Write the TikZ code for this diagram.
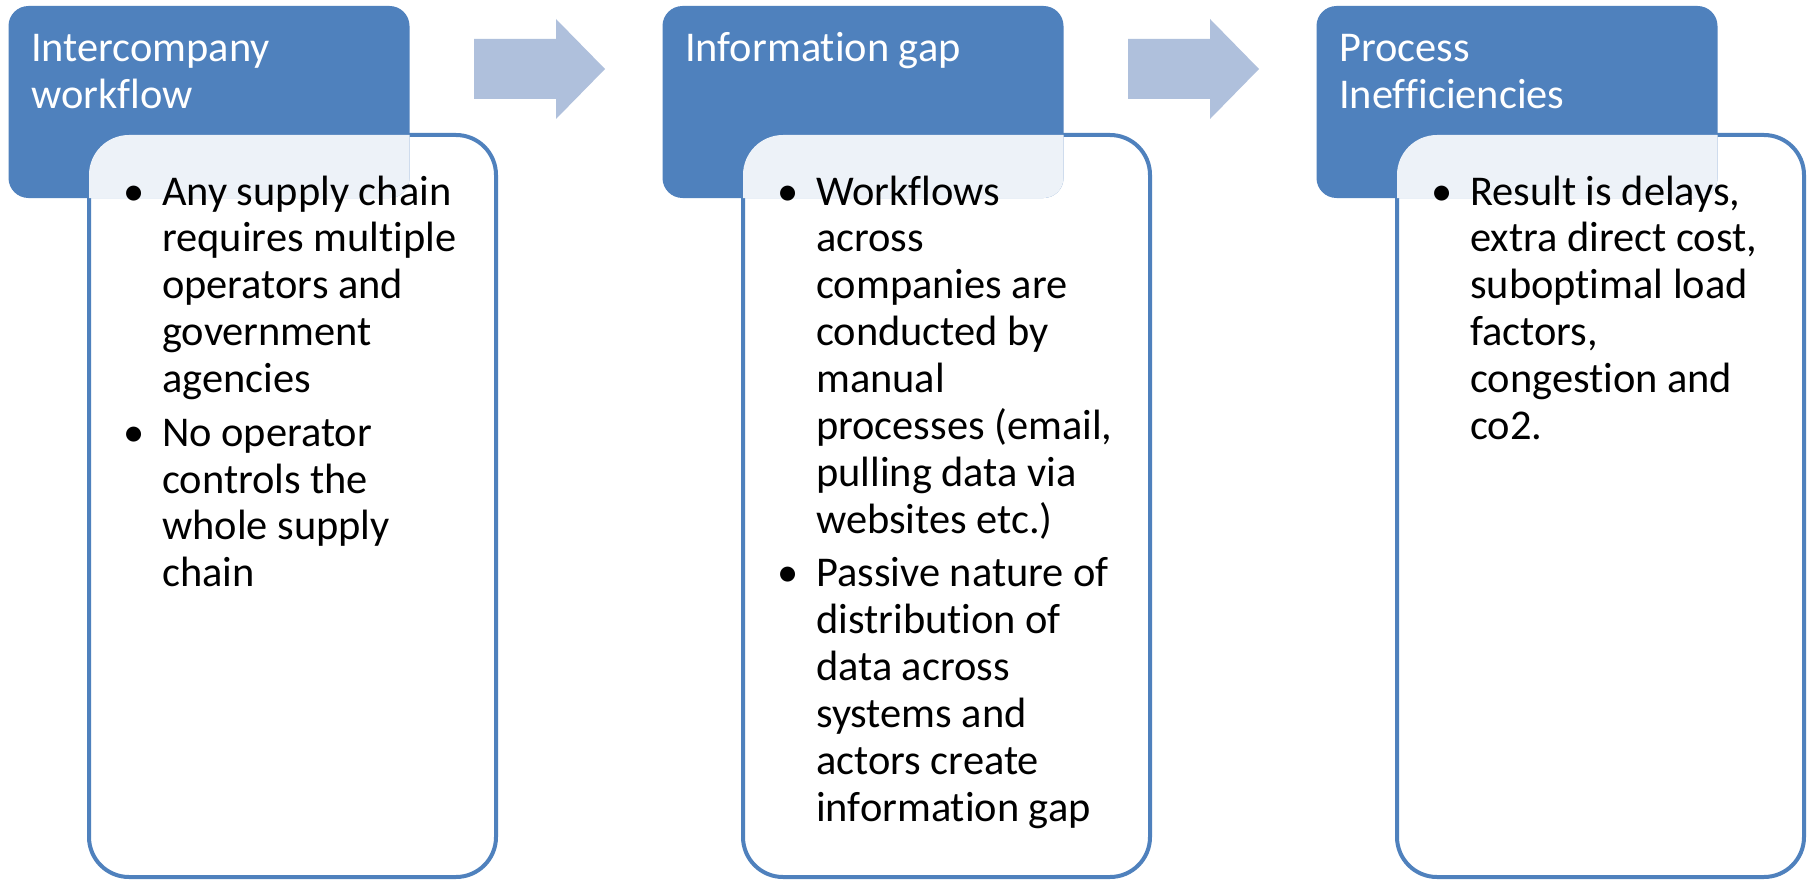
\documentclass[tikz,border=0pt]{standalone}
\usepackage{fontspec}
\setmainfont{Carlito}[Ligatures=NoCommon]
\definecolor{hdrblue}{HTML}{4F81BD}
\definecolor{arrowblue}{HTML}{AFC0DC}
\tikzset{
  hdrbox/.style={fill=hdrblue, rounded corners=20pt, minimum width=401pt, minimum height=192pt, anchor=north west, inner sep=0pt, outer sep=0pt},
  bodybox/.style={fill=white, draw=hdrblue, line width=4pt, rounded corners=40pt, minimum width=407pt, minimum height=742pt, anchor=north west, inner sep=0pt, outer sep=0pt},
  hdrtext/.style={text=white, anchor=base west, inner sep=0pt, font=\fontsize{42.4pt}{46.6pt}\selectfont},
  bodytext/.style={text=black, anchor=base west, inner sep=0pt, font=\fontsize{42.4pt}{46.9pt}\selectfont},
  blockarrow/.style={fill=arrowblue}
}
\newcommand{\bul}{\makebox[56pt][c]{•}}
\begin{document}
\begin{tikzpicture}[x=1pt,y=-1pt]
\useasboundingbox[fill=white] (0,0) rectangle (1810,880);

% ---------- column 1 ----------
\node[bodybox] (b1) at (89,135) {};
\node[hdrbox] (h1) at (8.5,6) {};
\begin{scope}
  \clip[rounded corners=20pt] (h1.north west) rectangle (h1.south east);
  \fill[white, opacity=0.9, rounded corners=40pt] (b1.north west) rectangle (b1.south east);
\end{scope}
\node[hdrtext] (t1) at (31,62) {\begin{tabular}[t]{@{}l@{}}Intercompany\\ workflow\end{tabular}};
\node[bodytext] (x1) at (106,205) {\begin{tabular}[t]{@{}l@{}l@{}}
\bul & Any supply chain\\
 & requires multiple\\
 & operators and\\
 & government\\
 & agencies\\[6.7pt]
\bul & No operator\\
 & controls the\\
 & whole supply\\
 & chain
\end{tabular}};

% arrow 1
\fill[blockarrow] (474,39) -- (556,39) -- (556,19) -- (605,69) -- (556,119) -- (556,99) -- (474,99) -- cycle;

% ---------- column 2 ----------
\node[bodybox] (b2) at (743,135) {};
\node[hdrbox] (h2) at (662.5,6) {};
\begin{scope}
  \clip[rounded corners=20pt] (h2.north west) rectangle (h2.south east);
  \fill[white, opacity=0.9, rounded corners=40pt] (b2.north west) rectangle (b2.south east);
\end{scope}
\node[hdrtext] (t2) at (685,62) {\begin{tabular}[t]{@{}l@{}}Information gap\end{tabular}};
\node[bodytext] (x2) at (760,205) {\begin{tabular}[t]{@{}l@{}l@{}}
\bul & Workflows\\
 & across\\
 & companies are\\
 & conducted by\\
 & manual\\
 & processes (email,\\
 & pulling data via\\
 & websites etc.)\\[6.7pt]
\bul & Passive nature of\\
 & distribution of\\
 & data across\\
 & systems and\\
 & actors create\\
 & information gap
\end{tabular}};

% arrow 2
\fill[blockarrow] (1128,39) -- (1210,39) -- (1210,19) -- (1259,69) -- (1210,119) -- (1210,99) -- (1128,99) -- cycle;

% ---------- column 3 ----------
\node[bodybox] (b3) at (1397,135) {};
\node[hdrbox] (h3) at (1316.5,6) {};
\begin{scope}
  \clip[rounded corners=20pt] (h3.north west) rectangle (h3.south east);
  \fill[white, opacity=0.9, rounded corners=40pt] (b3.north west) rectangle (b3.south east);
\end{scope}
\node[hdrtext] (t3) at (1339,62) {\begin{tabular}[t]{@{}l@{}}Process\\ Inefficiencies\end{tabular}};
\node[bodytext] (x3) at (1414,205) {\begin{tabular}[t]{@{}l@{}l@{}}
\bul & Result is delays,\\
 & extra direct cost,\\
 & suboptimal load\\
 & factors,\\
 & congestion and\\
 & co2.
\end{tabular}};
\end{tikzpicture}
\end{document}
